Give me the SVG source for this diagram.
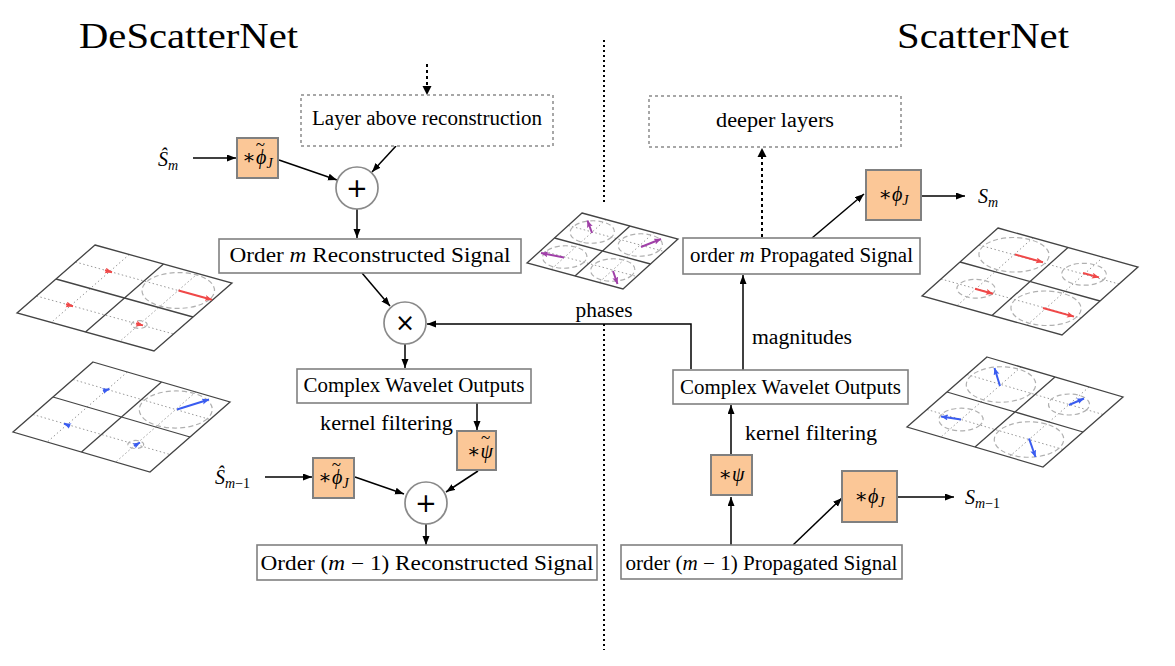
<svg xmlns="http://www.w3.org/2000/svg" width="1175" height="666" viewBox="0 0 1175 666">
<defs>
<style>
.box{fill:#fff;stroke:#808080;stroke-width:1.6}
.dbox{fill:#fff;stroke:#8a8a8a;stroke-width:1.5;stroke-dasharray:3 3}
.op{fill:#fbc797;stroke:#808080;stroke-width:2}
.circ{fill:#fff;stroke:#8a8a8a;stroke-width:1.7}
.edge{fill:none;stroke:#000;stroke-width:1.5;marker-end:url(#ah)}
.dot{fill:none;stroke:#000;stroke-width:2;stroke-dasharray:3 3}
.lbl{font-family:"Liberation Serif","DejaVu Serif",serif;font-size:20.5px;fill:#000}
.math{font-family:"Liberation Serif","DejaVu Serif",serif;font-size:20px;fill:#000}
.sym{font-family:"DejaVu Sans","Liberation Sans",sans-serif;fill:#000}
.head{font-family:"Liberation Serif","DejaVu Serif",serif;font-size:35px;fill:#000}
.gf{fill:#fff;stroke:none}
.gl{fill:none;stroke:#444;stroke-width:1.3;vector-effect:non-scaling-stroke}
.gd{fill:none;stroke:#999;stroke-width:1;stroke-dasharray:1.5 2.5;vector-effect:non-scaling-stroke}
.ge{fill:none;stroke:#b0b0b0;stroke-width:1.2;stroke-dasharray:5 3;vector-effect:non-scaling-stroke}
.ar{fill:none;stroke:#f04848;stroke-width:2;marker-end:url(#ahr)}
.ab{fill:none;stroke:#3a5cf0;stroke-width:2;marker-end:url(#ahb)}
.ap{fill:none;stroke:#a040a8;stroke-width:2;marker-end:url(#ahp)}
</style>
<marker id="ah" markerUnits="userSpaceOnUse" markerWidth="10" markerHeight="8" refX="9" refY="3.5" orient="auto"><path d="M0,0 L9,3.5 L0,7 Z" fill="#000"/></marker>
<marker id="ahr" markerUnits="userSpaceOnUse" markerWidth="9" markerHeight="8" refX="7" refY="3" orient="auto"><path d="M0,0 L7,3 L0,6 L1.5,3 Z" fill="#f04848"/></marker>
<marker id="ahb" markerUnits="userSpaceOnUse" markerWidth="9" markerHeight="8" refX="7" refY="3" orient="auto"><path d="M0,0 L7,3 L0,6 L1.5,3 Z" fill="#3a5cf0"/></marker>
<marker id="ahp" markerUnits="userSpaceOnUse" markerWidth="9" markerHeight="8" refX="7" refY="3" orient="auto"><path d="M0,0 L7,3 L0,6 L1.5,3 Z" fill="#a040a8"/></marker>
</defs>
<rect width="1175" height="666" fill="#fff"/>

<!-- headings -->
<text class="head" x="79" y="48" textLength="219" lengthAdjust="spacingAndGlyphs">DeScatterNet</text>
<text class="head" x="897" y="48" textLength="172" lengthAdjust="spacingAndGlyphs">ScatterNet</text>

<!-- divider -->
<g id="divider">
<path d="M604,40 V204 M604,324 V650" fill="none" stroke="#000" stroke-width="2" stroke-dasharray="2 3"/>
</g>

<!-- grids -->
<g id="grid-red-left">
<g transform="matrix(1.37,0.38,-0.78,0.68,95,245)">
<rect class="gf" x="0" y="0" width="100" height="100"/>
<path class="gd" d="M25,0V100M75,0V100M0,25H100M0,75H100"/>
<circle class="ge" cx="75" cy="25" r="23"/>
<circle class="ge" cx="75" cy="75" r="5"/>
<path class="gl" d="M50,0V100M0,50H100"/>
<rect class="gl" x="0" y="0" width="100" height="100"/>
</g>
<path class="ar" d="M105,270.3 L112,272.2"/>
<path class="ar" d="M178.5,290.5 L212,299.8"/>
<path class="ar" d="M66,304.3 L73,306.2"/>
<path class="ar" d="M136,323.5 L143,325.4"/>
</g>

<g id="grid-blue-left">
<g transform="matrix(1.37,0.40,-0.80,0.70,93,362)">
<rect class="gf" x="0" y="0" width="100" height="100"/>
<path class="gd" d="M25,0V100M75,0V100M0,25H100M0,75H100"/>
<circle class="ge" cx="75" cy="25" r="23"/>
<circle class="ge" cx="75" cy="75" r="5"/>
<path class="gl" d="M50,0V100M0,50H100"/>
<rect class="gl" x="0" y="0" width="100" height="100"/>
</g>
<path class="ab" d="M103,391 L109.5,389"/>
<path class="ab" d="M177,409.5 L209,399.5"/>
<path class="ab" d="M70,426 L64,423.5"/>
<path class="ab" d="M134,446 L140,442.5"/>
</g>

<g id="grid-purple">
<g transform="matrix(0.96,0.26,-0.55,0.50,582,213)">
<rect class="gf" x="0" y="0" width="100" height="100"/>
<path class="gd" d="M25,0V100M75,0V100M0,25H100M0,75H100"/>
<circle class="ge" cx="25" cy="25" r="20"/>
<circle class="ge" cx="75" cy="25" r="20"/>
<circle class="ge" cx="25" cy="75" r="20"/>
<circle class="ge" cx="75" cy="75" r="20"/>
<path class="gl" d="M50,0V100M0,50H100"/>
<rect class="gl" x="0" y="0" width="100" height="100"/>
</g>
<path class="ap" d="M592,233 L587.5,220.5"/>
<path class="ap" d="M641,247 L661,239"/>
<path class="ap" d="M564,257.5 L541,253"/>
<path class="ap" d="M613,271 L617.5,284"/>
</g>

<g id="grid-red-right">
<g transform="matrix(1.40,0.39,-0.76,0.68,998,228)">
<rect class="gf" x="0" y="0" width="100" height="100"/>
<path class="gd" d="M25,0V100M75,0V100M0,25H100M0,75H100"/>
<circle class="ge" cx="25" cy="25" r="22"/>
<circle class="ge" cx="75" cy="25" r="14"/>
<circle class="ge" cx="25" cy="75" r="12"/>
<circle class="ge" cx="75" cy="75" r="22"/>
<path class="gl" d="M50,0V100M0,50H100"/>
<rect class="gl" x="0" y="0" width="100" height="100"/>
</g>
<path class="ar" d="M1015,254.5 L1043,262.3"/>
<path class="ar" d="M1083,273 L1099,277.4"/>
<path class="ar" d="M975,288.7 L993,293.7"/>
<path class="ar" d="M1043,308 L1074,316.6"/>
</g>

<g id="grid-blue-right">
<g transform="matrix(1.36,0.40,-0.80,0.70,987,357)">
<rect class="gf" x="0" y="0" width="100" height="100"/>
<path class="gd" d="M25,0V100M75,0V100M0,25H100M0,75H100"/>
<circle class="ge" cx="25" cy="25" r="22"/>
<circle class="ge" cx="75" cy="25" r="13"/>
<circle class="ge" cx="25" cy="75" r="14"/>
<circle class="ge" cx="75" cy="75" r="22"/>
<path class="gl" d="M50,0V100M0,50H100"/>
<rect class="gl" x="0" y="0" width="100" height="100"/>
</g>
<path class="ab" d="M1000,386 L994.5,368"/>
<path class="ab" d="M1069,405 L1084,398.5"/>
<path class="ab" d="M961,419.5 L941,416.5"/>
<path class="ab" d="M1029,438.5 L1035.5,457"/>
</g>

<!-- connectors -->
<g id="connectors">
<path class="dot" d="M427,64 V88"/>
<path d="M422.5,86 L427,95 L431.5,86 Z" fill="#000"/>
<path class="edge" d="M193,158 H236"/>
<path class="edge" d="M279,160 L337,180"/>
<path class="edge" d="M396,146 L372,172"/>
<path class="edge" d="M357,209 V238"/>
<path class="edge" d="M362,273 L390,306"/>
<path class="edge" d="M405,344 V368"/>
<path class="edge" d="M691,369 V324 H427"/>
<path class="edge" d="M477,403 V430"/>
<path class="edge" d="M265,477 H312"/>
<path class="edge" d="M355,477 L404,494"/>
<path class="edge" d="M478,471 L446,492"/>
<path class="edge" d="M426,524 V545"/>
<path class="dot" d="M762,237 V156"/>
<path d="M757.5,157 L762,148 L766.5,157 Z" fill="#000"/>
<path class="edge" d="M812,238 L864,194"/>
<path class="edge" d="M921,196 H965"/>
<path class="edge" d="M743,370 V275"/>
<path class="edge" d="M731,455 V405"/>
<path class="edge" d="M731,545 V497"/>
<path class="edge" d="M793,545 L842,498"/>
<path class="edge" d="M897,497 H954"/>
</g>

<!-- edge labels -->
<g id="edge-labels">
<rect x="574" y="298" width="60" height="24" fill="#fff"/>
<text class="lbl" x="604" y="317" text-anchor="middle" textLength="57" lengthAdjust="spacingAndGlyphs">phases</text>
<text class="lbl" x="752" y="344" textLength="100" lengthAdjust="spacingAndGlyphs">magnitudes</text>
<text class="lbl" x="320" y="430" textLength="133" lengthAdjust="spacingAndGlyphs">kernel filtering</text>
<text class="lbl" x="745" y="440" textLength="132" lengthAdjust="spacingAndGlyphs">kernel filtering</text>
</g>

<!-- left nodes -->
<g id="layer-above">
<rect class="dbox" x="301" y="95" width="252" height="51"/>
<text class="lbl" x="427" y="125" text-anchor="middle" textLength="230" lengthAdjust="spacingAndGlyphs">Layer above reconstruction</text>
</g>
<g id="S-hat-m">
<text class="math" x="158" y="166" font-size="21"><tspan font-style="italic">Ŝ</tspan><tspan font-style="italic" font-size="14" dy="4">m</tspan></text>
</g>
<g id="phi-tilde-top">
<rect class="op" x="237" y="138" width="41" height="40"/>
<text class="math" x="257.5" y="164" text-anchor="middle">∗<tspan font-style="italic">ϕ</tspan><tspan font-size="17" dx="-10.5" dy="-14">~</tspan><tspan font-style="italic" font-size="14" dx="1.5" dy="18">J</tspan></text>
</g>
<g id="plus-top">
<circle class="circ" cx="357" cy="188" r="21"/>
<text class="sym" x="357" y="197" text-anchor="middle" font-size="26">+</text>
</g>
<g id="order-m-recon">
<rect class="box" x="219" y="239" width="302" height="34"/>
<text class="lbl" x="370" y="262" text-anchor="middle" textLength="281" lengthAdjust="spacingAndGlyphs">Order <tspan font-style="italic">m</tspan> Reconstructed Signal</text>
</g>
<g id="times">
<circle class="circ" cx="405" cy="323" r="21"/>
<text class="sym" x="405" y="331" text-anchor="middle" font-size="24">×</text>
</g>
<g id="cwo-left">
<rect class="box" x="297" y="369" width="234" height="34"/>
<text class="lbl" x="414" y="392" text-anchor="middle" textLength="221" lengthAdjust="spacingAndGlyphs">Complex Wavelet Outputs</text>
</g>
<g id="psi-tilde">
<rect class="op" x="457" y="431" width="39" height="39"/>
<text class="math" x="480" y="458" text-anchor="middle">∗<tspan font-style="italic">ψ</tspan><tspan font-size="17" dx="-12" dy="-15">~</tspan></text>
</g>
<g id="S-hat-m1">
<text class="math" x="215" y="484" font-size="21"><tspan font-style="italic">Ŝ</tspan><tspan font-size="14" dy="4"><tspan font-style="italic">m</tspan>−1</tspan></text>
</g>
<g id="phi-tilde-bottom">
<rect class="op" x="313" y="458" width="41" height="40"/>
<text class="math" x="333.5" y="484" text-anchor="middle">∗<tspan font-style="italic">ϕ</tspan><tspan font-size="17" dx="-10.5" dy="-14">~</tspan><tspan font-style="italic" font-size="14" dx="1.5" dy="18">J</tspan></text>
</g>
<g id="plus-bottom">
<circle class="circ" cx="426" cy="503" r="21"/>
<text class="sym" x="426" y="512" text-anchor="middle" font-size="26">+</text>
</g>
<g id="order-m1-recon">
<rect class="box" x="257" y="545" width="340" height="35"/>
<text class="lbl" x="427" y="570" text-anchor="middle" textLength="333" lengthAdjust="spacingAndGlyphs">Order (<tspan font-style="italic">m</tspan> − 1) Reconstructed Signal</text>
</g>

<!-- right nodes -->
<g id="deeper-layers">
<rect class="dbox" x="649" y="96" width="252" height="51"/>
<text class="lbl" x="775" y="127" text-anchor="middle" textLength="118" lengthAdjust="spacingAndGlyphs">deeper layers</text>
</g>
<g id="order-m-prop">
<rect class="box" x="683" y="238" width="237" height="36"/>
<text class="lbl" x="801.5" y="262" text-anchor="middle" textLength="223" lengthAdjust="spacingAndGlyphs">order <tspan font-style="italic">m</tspan> Propagated Signal</text>
</g>
<g id="phi-top-right">
<rect class="op" x="866" y="170" width="55" height="50"/>
<text class="math" x="893.5" y="201" text-anchor="middle">∗<tspan font-style="italic">ϕ</tspan><tspan font-style="italic" font-size="14" dy="4">J</tspan></text>
</g>
<g id="S-m">
<text class="math" x="978" y="203" font-size="21"><tspan font-style="italic">S</tspan><tspan font-style="italic" font-size="14" dy="4">m</tspan></text>
</g>
<g id="cwo-right">
<rect class="box" x="673" y="370" width="235" height="34"/>
<text class="lbl" x="790.5" y="394" text-anchor="middle" textLength="221" lengthAdjust="spacingAndGlyphs">Complex Wavelet Outputs</text>
</g>
<g id="psi-right">
<rect class="op" x="711" y="455" width="41" height="40"/>
<text class="math" x="731.5" y="481" text-anchor="middle">∗<tspan font-style="italic">ψ</tspan></text>
</g>
<g id="phi-bottom-right">
<rect class="op" x="842" y="471" width="55" height="51"/>
<text class="math" x="869.5" y="503" text-anchor="middle">∗<tspan font-style="italic">ϕ</tspan><tspan font-style="italic" font-size="14" dy="4">J</tspan></text>
</g>
<g id="S-m1">
<text class="math" x="965" y="504" font-size="21"><tspan font-style="italic">S</tspan><tspan font-size="14" dy="4"><tspan font-style="italic">m</tspan>−1</tspan></text>
</g>
<g id="order-m1-prop">
<rect class="box" x="621" y="545" width="281" height="34"/>
<text class="lbl" x="761.5" y="570" text-anchor="middle" textLength="272" lengthAdjust="spacingAndGlyphs">order (<tspan font-style="italic">m</tspan> − 1) Propagated Signal</text>
</g>
</svg>
